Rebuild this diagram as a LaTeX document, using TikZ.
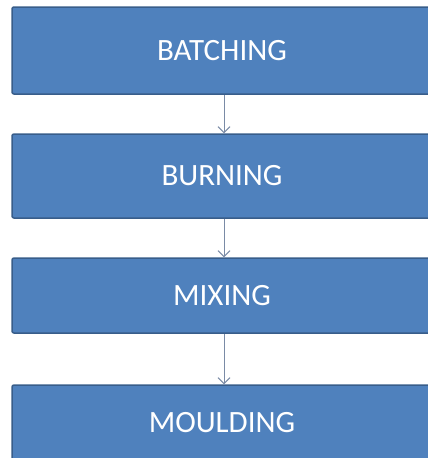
\documentclass[tikz,border=0pt]{standalone}
\usepackage{fontspec}
\setmainfont{Carlito}
\usetikzlibrary{arrows.meta}

\definecolor{boxblue}{HTML}{4F81BD}
\definecolor{boxedge}{HTML}{385D8A}
\definecolor{arrowgray}{HTML}{7A8BA6}

\tikzset{
    stagebox/.style={draw=boxedge, line width=1.5pt, fill=boxblue, rounded corners=2pt,
                     minimum width=420pt, inner sep=0pt, text=white, font=\fontsize{31}{36}\selectfont},
    flowline/.style={draw=arrowgray, line width=0.9pt, -{Straight Barb[length=6pt, width=12pt]}}
}

\begin{document}
\begin{tikzpicture}[x=1pt, y=-1pt]
        \useasboundingbox (0, 0) rectangle (428, 458);
        \clip (0, 0) rectangle (428, 458);

        \node [stagebox, minimum height=87pt] (batching) at (222, 50.5) {BATCHING};
        \node [stagebox, minimum height=84pt] (burning) at (222, 176) {BURNING};
        \node [stagebox, minimum height=75pt] (mixing) at (222, 295.5) {MIXING};
        \node [stagebox, minimum height=76pt] (moulding) at (222, 423) {MOULDING};

        \draw [flowline] (batching.south -| 224, 0) -- (burning.north -| 224, 0);
        \draw [flowline] (burning.south -| 224, 0) -- (mixing.north -| 224, 0);
        \draw [flowline] (mixing.south -| 224, 0) -- (moulding.north -| 224, 0);
    \end{tikzpicture}
\end{document}
